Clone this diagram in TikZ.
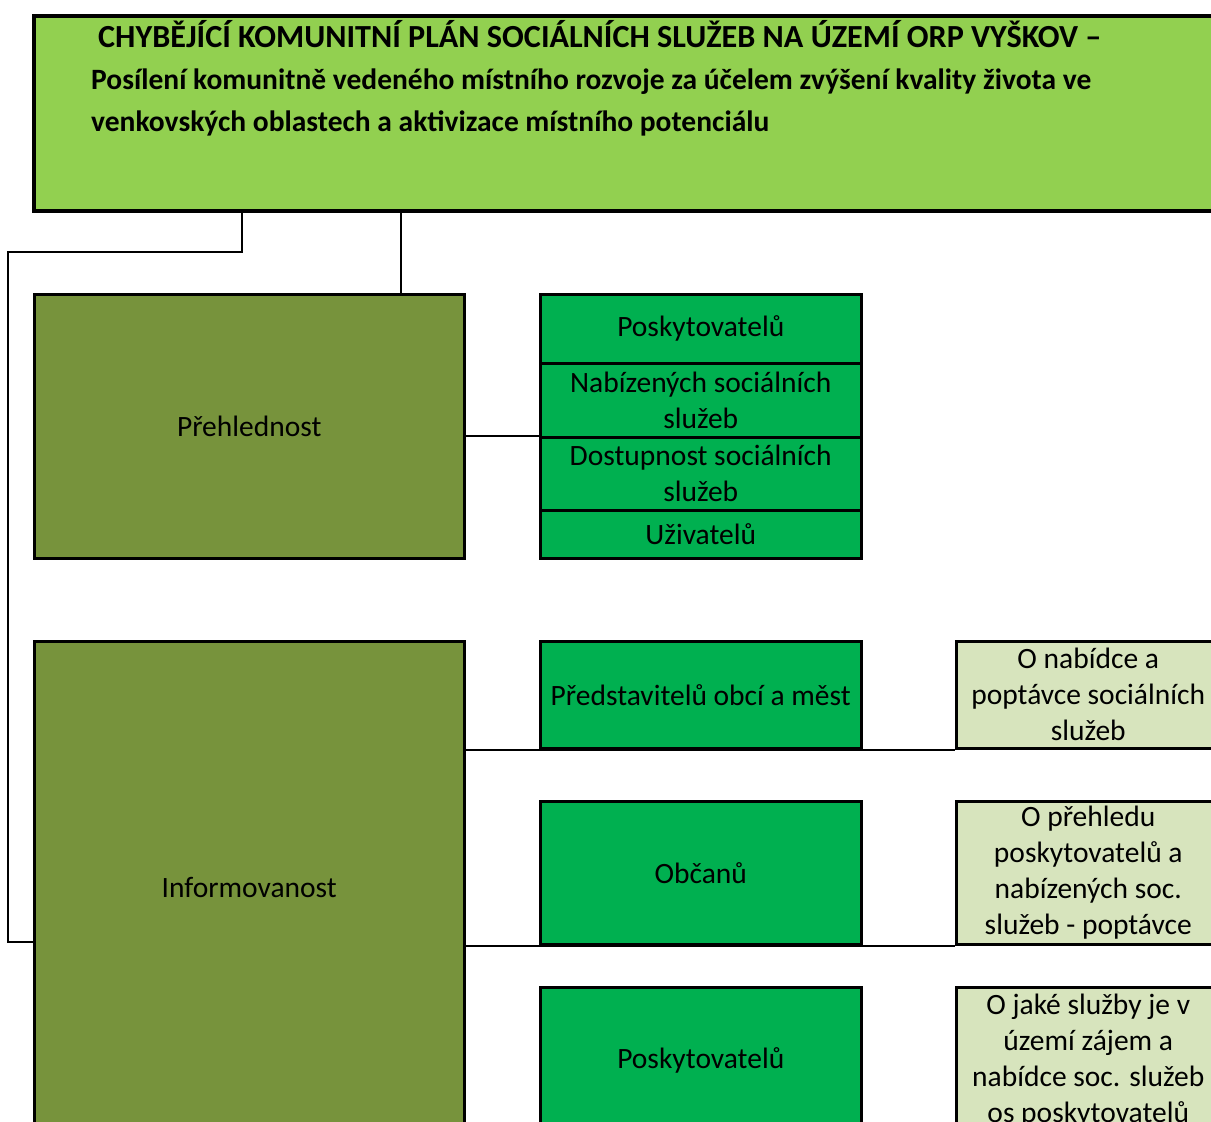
\documentclass[tikz,border=0pt]{standalone}
\usepackage{fontspec}
\setmainfont{Carlito}
\definecolor{topg}{HTML}{92D050}
\definecolor{olivebox}{HTML}{77933C}
\definecolor{grn}{HTML}{00B050}
\definecolor{lgrn}{HTML}{D7E4BD}
\tikzset{
  box/.style={draw=black, line width=2.5pt, rectangle, anchor=north west, inner sep=0pt,
    align=center, font=\fontsize{29.5}{36}\selectfont},
  olbox/.style={box, fill=olivebox},
  grbox/.style={box, fill=grn, minimum width=321pt},
  ltbox/.style={box, fill=lgrn, minimum width=264pt},
  titletxt/.style={anchor=base west, inner sep=0pt, font=\fontsize{29.5}{42}\selectfont\bfseries},
  conn/.style={draw=black, line width=2pt}
}
\begin{document}
\begin{tikzpicture}[x=1pt,y=-1pt]
\useasboundingbox (0,0) rectangle (1211,1122);
\clip (0,0) rectangle (1211,1122);
\fill[white] (0,0) rectangle (1211,1122);
% top box
\node[box, fill=topg, line width=3.5pt, minimum width=1190pt, minimum height=195pt] (top) at (32,14) {};
\node[titletxt, font=\fontsize{32.2}{42}\selectfont\bfseries] (t1) at (98,47) {CHYBĚJÍCÍ KOMUNITNÍ PLÁN SOCIÁLNÍCH SLUŽEB NA ÚZEMÍ ORP VYŠKOV –};
\node[titletxt] (t2) at (91,89) {Posílení komunitně vedeného místního rozvoje za účelem zvýšení kvality života ve};
\node[titletxt] (t3) at (91,131) {venkovských oblastech a aktivizace místního potenciálu};
% left boxes
\node[olbox, minimum width=430pt, minimum height=264pt] (prh) at (33,293) {Přehlednost};
\node[olbox, minimum width=430pt, minimum height=492pt] (inf) at (33,640) {Informovanost};
% stack
\node[grbox, minimum height=69pt] (s1) at (539,293) {Poskytovatelů};
\node[grbox, minimum height=74pt] (s2) at (539,362) {Nabízených sociálních\\služeb};
\node[grbox, minimum height=73pt] (s3) at (539,436) {Dostupnost sociálních\\služeb};
\node[grbox, minimum height=48pt] (s4) at (539,509) {Uživatelů};
% green boxes
\node[grbox, minimum height=107pt] (g1) at (539,640) {Představitelů obcí a měst};
\node[grbox, minimum height=143pt] (g2) at (539,800) {Občanů};
\node[grbox, minimum height=146pt] (g3) at (539,986) {Poskytovatelů};
% light boxes
\node[ltbox, minimum height=107pt] (l1) at (955,640) {O nabídce a\\poptávce sociálních\\služeb};
\node[ltbox, minimum height=143pt] (l2) at (955,800) {O přehledu\\poskytovatelů a\\nabízených soc.\\služeb - poptávce};
\node[ltbox, minimum height=146pt] (l3) at (955,986) {O jaké služby je v\\území zájem a\\nabídce soc. služeb\\os poskytovatelů};
% connectors
\coordinate (k1) at (242,252);
\coordinate (k2) at (8,252);
\coordinate (k3) at (8,942);
\coordinate (k4) at (401,252);
\draw[conn] (top.south -| k1) -- (k1) -- (k2) -- (k3) -- (inf.west |- k3);
\draw[conn] (top.south -| k4) -- (prh.north -| k4);
\draw[conn] (prh.east |- s3.north west) -- (s3.north west);
\draw[conn] (inf.east |- g1.south) -- (l1.south west);
\draw[conn] (inf.east |- g2.south) -- (l2.south west);
\end{tikzpicture}
\end{document}
